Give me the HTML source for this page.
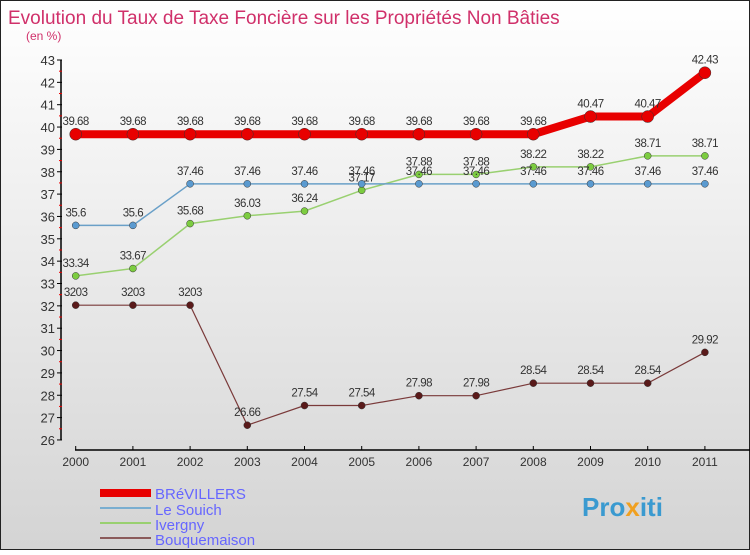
<!DOCTYPE html>
<html><head><meta charset="utf-8"><style>
body{margin:0;width:750px;height:550px;overflow:hidden;font-family:"Liberation Sans",sans-serif}
</style></head><body>
<svg id="c" width="750" height="550" xmlns="http://www.w3.org/2000/svg">
<defs><linearGradient id="bg" x1="0" y1="0" x2="0" y2="1"><stop offset="0" stop-color="#ffffff"/><stop offset="1" stop-color="#d4d4d4"/></linearGradient></defs>
<rect x="0.5" y="0.5" width="749" height="549" fill="url(#bg)" stroke="#222"/>
<text x="8" y="24" font-size="19" fill="#d0306a">Evolution du Taux de Taxe Foncière sur les Propriétés Non Bâties</text>
<text x="26" y="40" font-size="12" fill="#d0306a">(en %)</text>
<g id="axes"></g><g id="series"></g>
<g>
<rect x="100" y="489" width="51" height="8" fill="#e80000"/>
<text x="155" y="499" font-size="15" fill="#6666ff">BRéVILLERS</text>
<rect x="100" y="507" width="51" height="2" fill="#7aaed0"/>
<text x="155" y="515" font-size="15" fill="#6666ff">Le Souich</text>
<rect x="100" y="522" width="51" height="2" fill="#99d070"/>
<text x="155" y="530" font-size="15" fill="#6666ff">Ivergny</text>
<rect x="100" y="537" width="51" height="2" fill="#8a5a5a"/>
<text x="155" y="545" font-size="15" fill="#6666ff">Bouquemaison</text>
</g>
<text x="582" y="516" font-size="26" font-weight="bold" fill="#3a9ad0">Pro<tspan fill="#f0a020">x</tspan>iti</text>
</svg>
<script>
const years=[2000,2001,2002,2003,2004,2005,2006,2007,2008,2009,2010,2011];
const yTicks=[26,27,28,29,30,31,32,33,34,35,36,37,38,39,40,41,42,43];
const brevillers=[39.68,39.68,39.68,39.68,39.68,39.68,39.68,39.68,39.68,40.47,40.47,42.43];
const leSouich=[35.6,35.6,37.46,37.46,37.46,37.46,37.46,37.46,37.46,37.46,37.46,37.46];
const ivergny=[33.34,33.67,35.68,36.03,36.24,37.17,37.88,37.88,38.22,38.22,38.71,38.71];
const bouquemaison=[32.03,32.03,32.03,26.66,27.54,27.54,27.98,27.98,28.54,28.54,28.54,29.92];
const NS="http://www.w3.org/2000/svg";
const xs=i=>75.7+i*57.2, ys=v=>60+(43-v)*22.35;
function mk(t,a,p){const e=document.createElementNS(NS,t);for(const k in a)e.setAttribute(k,a[k]);p.appendChild(e);return e;}
const ax=document.getElementById('axes');
let l=mk('line',{x1:61,y1:60,x2:61,y2:440,stroke:'#000','stroke-width':1.5},ax);


l=mk('line',{x1:75,y1:450,x2:750,y2:450,stroke:'#000','stroke-width':1.5},ax);


yTicks.forEach(v=>{mk('line',{x1:57,y1:ys(v),x2:62,y2:ys(v),stroke:'#000'},ax);
if(v<43)mk('line',{x1:59,y1:ys(v+0.5),x2:62,y2:ys(v+0.5),stroke:'#e00'},ax);
const t=mk('text',{x:55,y:ys(v)+5,'font-size':13,fill:'#333','text-anchor':'end'},ax);t.textContent=v;

});
years.forEach((y,i)=>{mk('line',{x1:xs(i),y1:446,x2:xs(i),y2:450,stroke:'#000'},ax);
const t=mk('text',{x:xs(i),y:466,'font-size':12,fill:'#333','text-anchor':'middle'},ax);t.textContent=y;

});
const sg=document.getElementById('series');
function series(name,d,col,w,r,dot){const g=mk('g',{},sg);


const p=mk('polyline',{points:d.map((v,i)=>xs(i)+','+ys(v)).join(' '),fill:'none',stroke:col,'stroke-width':w},g);


d.forEach((v,i)=>{const c=mk('circle',{cx:xs(i),cy:ys(v),r:r,fill:dot,stroke:'#333','stroke-width':0.5},g);


const t=mk('text',{x:xs(i),y:ys(v)-9,'font-size':11.5,fill:'#333','text-anchor':'middle','letter-spacing':'-0.5'},g);
t.textContent=String(v).replace('.','');t.textContent=v.toFixed(2).replace(/^(\d+)\.(\d+)$/,(m,a,b)=>name==='bouquemaison'&&v===32.03?'3203':v);

});}
series('bouquemaison',bouquemaison,'#7a3a3a',1.2,3.5,'#5a1a1a');
series('ivergny',ivergny,'#99d070',1.5,3.5,'#7ccc40');
series('le-souich',leSouich,'#6aa0c8',1.5,3.5,'#5a9ad0');
series('brevillers',brevillers,'#e80000',8,6,'#e80000');
</script>
</body></html>
